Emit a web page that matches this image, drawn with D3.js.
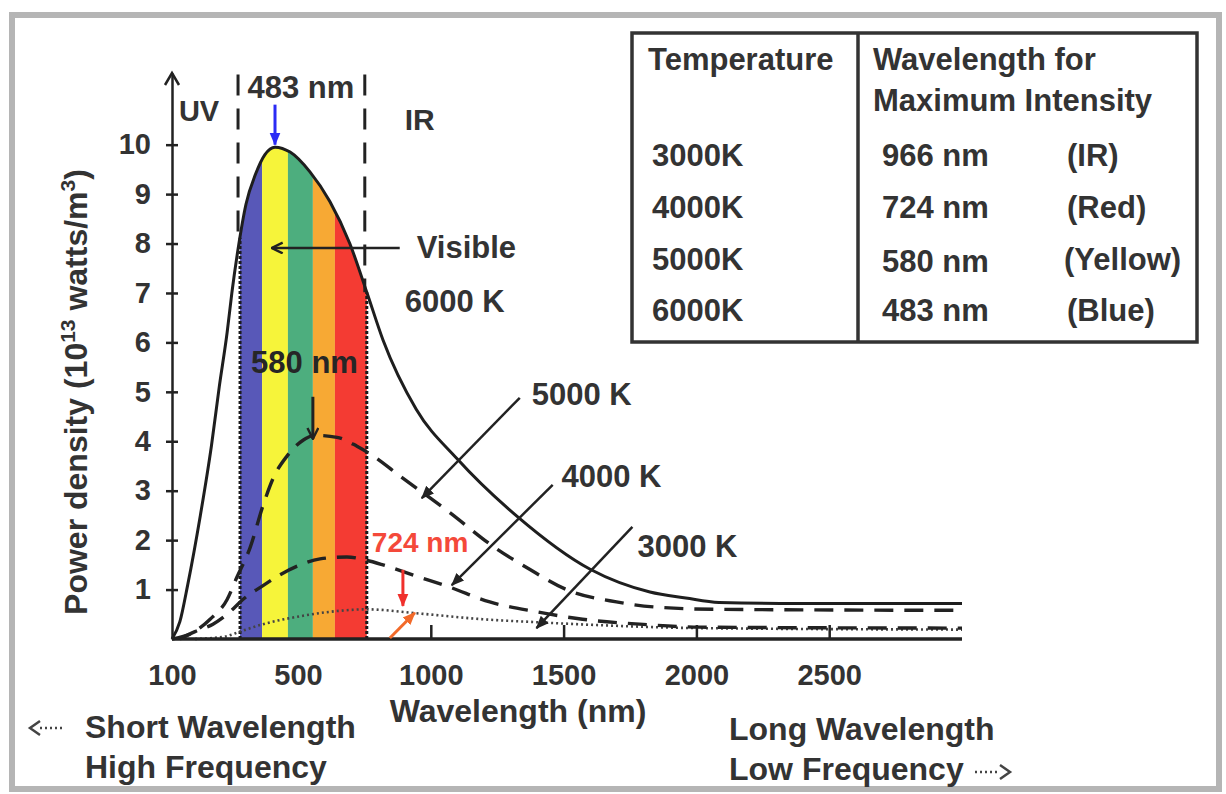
<!DOCTYPE html>
<html>
<head>
<meta charset="utf-8">
<script src="https://cdn.jsdelivr.net/npm/d3@7"></script>
<style>
  body { margin: 0; background: #fff; }
  svg { display: block; font-family: "Liberation Sans", Arial, sans-serif; font-weight: bold; }
</style>
</head>
<body>
<div id="chart"></div>
<script>
// values; the wavelength axis of the original is schematic,
// so x values are in "axis units" (100 at the origin, linear from 500 on)
var xTicks = [100, 500, 1000, 1500, 2000, 2500];
var xMarks = [1000, 1500, 2000, 2500];
var yTicks = [1, 2, 3, 4, 5, 6, 7, 8, 9, 10];

var curve6000 = [[100,0],[125,0.35],[150,1.1],[190,2.5],[225,3.9],[250,5.1],[275,6.2],[290,7.0],[310,7.9],[335,8.8],[365,9.4],[395,9.8],[427,9.95],[475,9.85],[545,9.45],[620,8.85],[695,8.0],[760,7.0],[820,6.05],[945,4.65],[1100,3.64],[1325,2.48],[1600,1.41],[1825,0.95],[1960,0.83],[2085,0.74],[2385,0.72],[3000,0.72]];
var curve5000 = [[100,0],[157,0.1],[221,0.4],[275,0.8],[306,1.25],[348,1.85],[389,2.7],[421,3.25],[465,3.7],[519,4.02],[564,4.12],[647,4.08],[722,3.9],[778,3.72],[883,3.3],[1071,2.56],[1233,1.88],[1372,1.41],[1511,1.0],[1699,0.75],[1861,0.64],[2086,0.6],[3000,0.58]];
var curve4000 = [[125,0],[173,0.15],[230,0.3],[284,0.55],[325,0.8],[389,1.08],[443,1.3],[508,1.5],[583,1.62],[684,1.66],[752,1.6],[820,1.5],[947,1.27],[1071,1.05],[1222,0.75],[1398,0.55],[1571,0.4],[1786,0.3],[2011,0.24],[3000,0.22]];
var curve3000 = [[173,0],[268,0.05],[316,0.15],[389,0.3],[508,0.46],[620,0.55],[759,0.6],[947,0.52],[1195,0.4],[1398,0.34],[1635,0.28],[2011,0.22],[3000,0.19]];

// visible band (stripe edges, axis units) and its colours
var bandEdges = [316, 386, 468, 556, 639, 759];
var bandColors = ["#5858b8", "#f6f43a", "#4dae7e", "#f7a934", "#f43b33"];

// table
var tableHead = ["Temperature", "Wavelength for", "Maximum Intensity"];
var tableTemps = ["3000K", "4000K", "5000K", "6000K"];
var tablePeaks = ["966 nm", "724 nm", "580 nm", "483 nm"];
var tableNames = ["(IR)", "(Red)", "(Yellow)", "(Blue)"];

// annotations in data units
var curveLabels = [
  {t: "6000 K", x: 902, y: 6.62},
  {t: "5000 K", x: 1380, y: 4.74},
  {t: "4000 K", x: 1492, y: 3.08},
  {t: "3000 K", x: 1778, y: 1.66}
];
var curveArrows = [
  {x1: 1335, y1: 4.88, x2: 966, y2: 2.85},
  {x1: 1459, y1: 3.12, x2: 1079, y2: 1.09},
  {x1: 1759, y1: 2.27, x2: 1398, y2: 0.22}
];

var W = 1226, H = 794;
var svg = d3.select("#chart").append("svg").attr("width", W).attr("height", H);
var defs = svg.append("defs");

var x = d3.scaleLinear().domain([100, 500, 3000]).range([172, 298, 962]);
var y = d3.scaleLinear().domain([0, 11.45]).range([639, 73]);

function marker(id, color, open) {
  var m = defs.append("marker").attr("id", id)
    .attr("viewBox", "0 0 12 12").attr("refX", 11).attr("refY", 6)
    .attr("markerWidth", 13).attr("markerHeight", 13)
    .attr("markerUnits", "userSpaceOnUse").attr("orient", "auto");
  if (open) {
    m.append("path").attr("d", "M1,1 L11,6 L1,11").attr("fill", "none")
      .attr("stroke", color).attr("stroke-width", 2.2);
  } else {
    m.append("path").attr("d", "M0,1 L12,6 L0,11 z").attr("fill", color);
  }
}
marker("hBlack", "#222", false);
marker("hOpen", "#222", true);
marker("hBlue", "#2b2bf5", false);
marker("hRed", "#f0302c", false);
marker("hOrange", "#f26a2a", false);

function valueAt(data, xv) {
  for (var i = 1; i < data.length; i++) {
    if (xv <= data[i][0]) {
      var a = data[i-1], b = data[i];
      return a[1] + (b[1] - a[1]) * (xv - a[0]) / (b[0] - a[0]);
    }
  }
  return data[data.length-1][1];
}

// outer frame
svg.append("rect").attr("x", 12).attr("y", 15).attr("width", 1207).attr("height", 774)
  .attr("fill", "none").attr("stroke", "#b5b5b5").attr("stroke-width", 6);

// coloured visible band clipped under the 6000 K curve
var area6000 = d3.area().x(d => x(d[0])).y0(y(0)).y1(d => y(d[1])).curve(d3.curveMonotoneX);
defs.append("clipPath").attr("id", "under6000").append("path").attr("d", area6000(curve6000));
svg.append("g").attr("clip-path", "url(#under6000)")
  .selectAll("rect").data(d3.pairs(bandEdges)).join("rect")
  .attr("x", d => x(d[0])).attr("width", d => x(d[1]) - x(d[0]))
  .attr("y", y(11)).attr("height", y(0) - y(11))
  .attr("fill", (d, i) => bandColors[i]);

var edges = [bandEdges[0], bandEdges[bandEdges.length-1]];
// dotted band borders below the curve
svg.append("g").selectAll("line").data(edges).join("line")
  .attr("x1", d => x(d)).attr("x2", d => x(d))
  .attr("y1", y(0)).attr("y2", d => y(valueAt(curve6000, d)))
  .attr("stroke", "#1a1a1a").attr("stroke-width", 3).attr("stroke-dasharray", "3,2");
// dashed bracket above the curve
svg.append("g").selectAll("line").data(edges).join("line")
  .attr("x1", d => x(d) - 2).attr("x2", d => x(d) - 2)
  .attr("y1", y(11.42)).attr("y2", d => y(valueAt(curve6000, d)))
  .attr("stroke", "#222").attr("stroke-width", 3).attr("stroke-dasharray", "21,13");

// curves
var line = d3.line().x(d => x(d[0])).y(d => y(d[1])).curve(d3.curveMonotoneX);
var curves = [
  {d: curve3000, dash: "2,3", w: 2.6, c: "#444"},
  {d: curve4000, dash: "19,11", w: 3.4, c: "#222"},
  {d: curve5000, dash: "19,11", w: 3.4, c: "#222"},
  {d: curve6000, dash: null, w: 3, c: "#1e1e1e"}
];
svg.append("g").selectAll("path").data(curves).join("path")
  .attr("d", d => line(d.d)).attr("fill", "none")
  .attr("stroke", d => d.c).attr("stroke-width", d => d.w)
  .attr("stroke-dasharray", d => d.dash);

// axes
var textColor = "#333";
var gx = svg.append("g").attr("transform", "translate(0," + y(0) + ")")
  .call(d3.axisBottom(x).tickValues(xTicks).tickSize(0).tickPadding(25).tickFormat(d3.format("d")));
gx.select(".domain").remove();
gx.selectAll("text").attr("font-size", 29).attr("font-family", "Liberation Sans, Arial, sans-serif")
  .attr("font-weight", "bold").attr("fill", textColor);

var gm = svg.append("g").attr("transform", "translate(0," + y(0) + ")")
  .call(d3.axisBottom(x).tickValues(xMarks).tickSize(-14).tickFormat(""));
gm.select(".domain").remove();
gm.selectAll("line").attr("stroke", "#222").attr("stroke-width", 2.5);

svg.append("line").attr("x1", x(100)).attr("x2", x(3000)).attr("y1", y(0)).attr("y2", y(0))
  .attr("stroke", "#222").attr("stroke-width", 3.5);

var gy = svg.append("g").attr("transform", "translate(" + x(100) + ",0)")
  .call(d3.axisLeft(y).tickValues(yTicks).tickSize(6).tickPadding(15).tickSizeOuter(0));
gy.select(".domain").attr("stroke", "#222").attr("stroke-width", 2.5);
gy.selectAll(".tick line").attr("x1", 6).attr("stroke", "#222").attr("stroke-width", 2.5);
gy.selectAll("text").attr("font-size", 29).attr("font-family", "Liberation Sans, Arial, sans-serif")
  .attr("font-weight", "bold").attr("fill", textColor);
// arrow tip of the y axis
svg.append("path")
  .attr("d", d3.line()([[x(100) - 7, y(11.45) + 12], [x(100), y(11.45)], [x(100) + 7, y(11.45) + 12]]))
  .attr("fill", "none").attr("stroke", "#222").attr("stroke-width", 2.5);

// axis titles
svg.append("text").attr("x", 518).attr("y", 722).attr("text-anchor", "middle")
  .attr("font-size", 32).attr("fill", textColor).text("Wavelength (nm)");
var yl = svg.append("text").attr("transform", "translate(87,392) rotate(-90)")
  .attr("text-anchor", "middle").attr("font-size", 32).attr("fill", textColor);
yl.append("tspan").text("Power density (10");
yl.append("tspan").attr("dy", -12).attr("font-size", 21).text("13");
yl.append("tspan").attr("dy", 12).text(" watts/m");
yl.append("tspan").attr("dy", -12).attr("font-size", 21).text("3");
yl.append("tspan").attr("dy", 12).text(")");

// region labels
function label(t, xv, yv, size, color, anchor) {
  return svg.append("text").attr("x", x(xv)).attr("y", y(yv))
    .attr("font-size", size).attr("fill", color || textColor)
    .attr("text-anchor", anchor || "start").text(t);
}
label("UV", 122, 10.47, 29);
label("IR", 902, 10.30, 30);
label("483 nm", 511, 10.95, 31, textColor, "middle");
label("Visible", 947, 7.71, 31);
label("580 nm", 351, 5.38, 31, "#262626");
label("724 nm", 778, 1.76, 28, "#f4493a");
curveLabels.forEach(d => label(d.t, d.x, d.y, 31));

// arrows
function arrow(x1, y1, x2, y2, color, mk, w) {
  svg.append("line").attr("x1", x(x1)).attr("y1", y(y1)).attr("x2", x(x2)).attr("y2", y(y2))
    .attr("stroke", color).attr("stroke-width", w || 2.5).attr("marker-end", "url(#" + mk + ")");
}
arrow(427, 10.81, 427, 10.0, "#2b2bf5", "hBlue", 3);
arrow(883, 7.91, 417, 7.91, "#222", "hOpen", 2.5);
arrow(556, 4.9, 556, 4.05, "#222", "hOpen", 3);
arrow(895, 1.40, 895, 0.67, "#f0302c", "hRed", 3);
arrow(846, 0.02, 940, 0.53, "#f26a2a", "hOrange", 3);
curveArrows.forEach(d => arrow(d.x1, d.y1, d.x2, d.y2, "#222", "hBlack", 2.5));

// table
var tbl = svg.append("g");
tbl.append("rect").attr("x", 632).attr("y", 33).attr("width", 565).attr("height", 309)
  .attr("fill", "#fff").attr("stroke", "#333").attr("stroke-width", 3.5);
tbl.append("line").attr("x1", 858).attr("x2", 858).attr("y1", 33).attr("y2", 342)
  .attr("stroke", "#333").attr("stroke-width", 3.5);
tbl.append("text").attr("x", 648).attr("y", 70).attr("font-size", 31).attr("fill", textColor).text(tableHead[0]);
tbl.append("text").attr("x", 873).attr("y", 70).attr("font-size", 31).attr("fill", textColor).text(tableHead[1]);
tbl.append("text").attr("x", 873).attr("y", 111).attr("font-size", 31).attr("fill", textColor).text(tableHead[2]);
var rowY = [166, 218, 270, 321];
tbl.selectAll(".tt").data(tableTemps).join("text").attr("class", "tt")
  .attr("x", 652).attr("y", (d, i) => rowY[i]).attr("font-size", 31).attr("fill", textColor).text(d => d);
tbl.selectAll(".tp").data(tablePeaks).join("text").attr("class", "tp")
  .attr("x", 882).attr("y", (d, i) => rowY[i] + (i == 2 ? 2 : 0)).attr("font-size", 31).attr("fill", textColor).text(d => d);
tbl.selectAll(".tn").data(tableNames).join("text").attr("class", "tn")
  .attr("x", (d, i) => i == 2 ? 1064 : 1067).attr("y", (d, i) => rowY[i]).attr("font-size", 31).attr("fill", textColor).text(d => d);

// bottom notes
svg.append("text").attr("x", 85).attr("y", 738).attr("font-size", 32).attr("fill", textColor).text("Short Wavelength");
svg.append("text").attr("x", 85).attr("y", 778).attr("font-size", 32).attr("fill", textColor).text("High Frequency");
svg.append("text").attr("x", 729).attr("y", 740).attr("font-size", 32).attr("fill", textColor).text("Long Wavelength");
svg.append("text").attr("x", 729).attr("y", 780).attr("font-size", 32).attr("fill", textColor).text("Low Frequency");
// small dotted arrows
svg.append("line").attr("x1", 40).attr("x2", 64).attr("y1", 728).attr("y2", 728)
  .attr("stroke", "#444").attr("stroke-width", 2.5).attr("stroke-dasharray", "2,3");
svg.append("path").attr("d", "M40,721 L30,728 L40,735").attr("fill", "none").attr("stroke", "#444").attr("stroke-width", 2.5);
svg.append("line").attr("x1", 975).attr("x2", 999).attr("y1", 772).attr("y2", 772)
  .attr("stroke", "#444").attr("stroke-width", 2.5).attr("stroke-dasharray", "2,3");
svg.append("path").attr("d", "M1000,765 L1010,772 L1000,779").attr("fill", "none").attr("stroke", "#444").attr("stroke-width", 2.5);
</script>
</body>
</html>
